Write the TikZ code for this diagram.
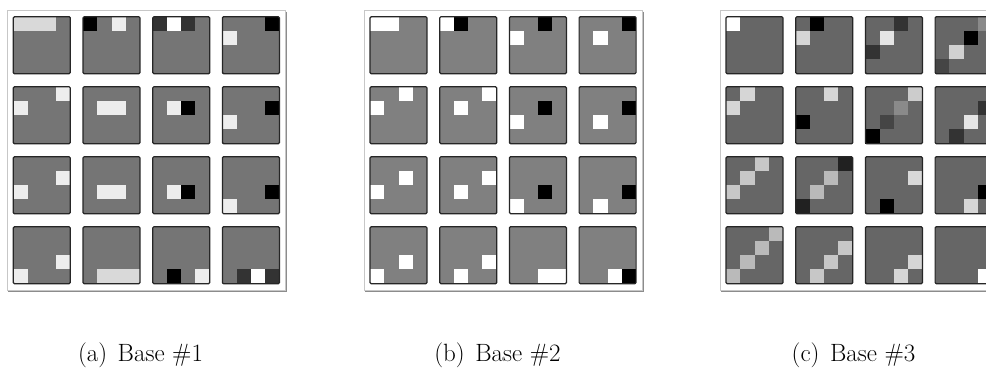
\documentclass[tikz,border=0pt]{standalone}
\usepackage{tikz}

\newcommand{\cs}{14.25}% cell size
\newcommand{\ts}{57}% tile size
% one 4x4 base tile: #1 row, #2 column, #3 background, #4 cells col/row/colour
\newcommand{\basetile}[4]{%
  \begin{scope}[shift={({6+69.7*#2},{6+70*#1})}]
    \fill[#3] (0,0) rectangle (\ts,\ts);
    \foreach \c/\r/\col in {#4}
      \fill[fill=\col] ({\c*\cs},{\r*\cs}) rectangle ++(\cs,\cs);
    \draw[tileedge] (0,0) rectangle (\ts,\ts);
  \end{scope}}

\tikzset{
  tileedge/.style={draw=black!85, line width=1.2pt, rounded corners=1.2pt},
  panelframe/.style={draw=black!22, line width=0.8pt},
  panelshadow/.style={draw=black!45, line width=0.9pt},
  subcap/.style={anchor=base, font=\fontsize{25}{30}\selectfont}
}

\begin{document}
\begin{tikzpicture}[x=1pt, y=-1pt]
  \clip (0,0) rectangle (986,369);
  \fill[white] (0,0) rectangle (986,369);

  % (a) Base #1
  \begin{scope}[shift={(7.3,10.7)}]
    \draw[panelframe] (0,0) rectangle (278.4,280);
    \draw[panelshadow] (279.4,1) -- (279.4,281) -- (1,281);
    \basetile{0}{0}{black!54}{0/0/black!15, 1/0/black!15, 2/0/black!15}
    \basetile{0}{1}{black!54}{0/0/black, 2/0/black!7}
    \basetile{0}{2}{black!54}{0/0/black!80, 1/0/white, 2/0/black!80}
    \basetile{0}{3}{black!54}{3/0/black, 0/1/black!7}
    \basetile{1}{0}{black!54}{0/1/black!7, 3/0/black!7}
    \basetile{1}{1}{black!54}{1/1/black!7, 2/1/black!7}
    \basetile{1}{2}{black!54}{1/1/black!7, 2/1/black}
    \basetile{1}{3}{black!54}{3/1/black, 0/2/black!7}
    \basetile{2}{0}{black!54}{0/2/black!7, 3/1/black!7}
    \basetile{2}{1}{black!54}{1/2/black!7, 2/2/black!7}
    \basetile{2}{2}{black!54}{1/2/black!7, 2/2/black}
    \basetile{2}{3}{black!54}{3/2/black, 0/3/black!7}
    \basetile{3}{0}{black!54}{0/3/black!7, 3/2/black!7}
    \basetile{3}{1}{black!54}{1/3/black!15, 2/3/black!15, 3/3/black!15}
    \basetile{3}{2}{black!54}{1/3/black, 3/3/black!7}
    \basetile{3}{3}{black!54}{1/3/black!80, 2/3/white, 3/3/black!80}
  \end{scope}
  \node[subcap] (capa) at (140.5,361.5) {(a)\hspace{3pt} Base \#1};

  % (b) Base #2
  \begin{scope}[shift={(364,10.7)}]
    \draw[panelframe] (0,0) rectangle (278.4,280);
    \draw[panelshadow] (279.4,1) -- (279.4,281) -- (1,281);
    \basetile{0}{0}{black!50}{0/0/white, 1/0/white}
    \basetile{0}{1}{black!50}{0/0/white, 1/0/black}
    \basetile{0}{2}{black!50}{2/0/black, 0/1/white}
    \basetile{0}{3}{black!50}{3/0/black, 1/1/white}
    \basetile{1}{0}{black!50}{0/1/white, 2/0/white}
    \basetile{1}{1}{black!50}{1/1/white, 3/0/white}
    \basetile{1}{2}{black!50}{2/1/black, 0/2/white}
    \basetile{1}{3}{black!50}{3/1/black, 1/2/white}
    \basetile{2}{0}{black!50}{0/2/white, 2/1/white}
    \basetile{2}{1}{black!50}{1/2/white, 3/1/white}
    \basetile{2}{2}{black!50}{2/2/black, 0/3/white}
    \basetile{2}{3}{black!50}{3/2/black, 1/3/white}
    \basetile{3}{0}{black!50}{0/3/white, 2/2/white}
    \basetile{3}{1}{black!50}{1/3/white, 3/2/white}
    \basetile{3}{2}{black!50}{2/3/white, 3/3/white}
    \basetile{3}{3}{black!50}{2/3/white, 3/3/black}
  \end{scope}
  \node[subcap] (capb) at (497.5,361.5) {(b)\hspace{3pt} Base \#2};

  % (c) Base #3
  \begin{scope}[shift={(720,10.7)}]
    \draw[panelframe] (0,0) rectangle (278.4,280);
    \draw[panelshadow] (279.4,1) -- (279.4,281) -- (1,281);
    \basetile{0}{0}{black!60}{0/0/white}
    \basetile{0}{1}{black!60}{1/0/black, 0/1/black!16}
    \basetile{0}{2}{black!60}{2/0/black!80, 1/1/black!10, 0/2/black!80}
    \basetile{0}{3}{black!60}{3/0/black!46, 2/1/black, 1/2/black!18, 0/3/black!73}
    \basetile{1}{0}{black!60}{1/0/black!16, 0/1/black!16}
    \basetile{1}{1}{black!60}{2/0/black!16, 0/2/black}
    \basetile{1}{2}{black!60}{3/0/black!20, 2/1/black!46, 1/2/black!73, 0/3/black}
    \basetile{1}{3}{black!60}{3/1/black!80, 2/2/black!10, 1/3/black!80}
    \basetile{2}{0}{black!60}{2/0/black!22, 1/1/black!22, 0/2/black!22}
    \basetile{2}{1}{black!60}{3/0/black!87, 2/1/black!27, 1/2/black!27, 0/3/black!87}
    \basetile{2}{2}{black!60}{3/1/black!15, 1/3/black}
    \basetile{2}{3}{black!60}{3/2/black, 2/3/black!16}
    \basetile{3}{0}{black!60}{3/0/black!27, 2/1/black!27, 1/2/black!27, 0/3/black!27}
    \basetile{3}{1}{black!60}{3/1/black!22, 2/2/black!22, 1/3/black!22}
    \basetile{3}{2}{black!60}{3/2/black!16, 2/3/black!16}
    \basetile{3}{3}{black!60}{3/3/white}
  \end{scope}
  \node[subcap] (capc) at (853.5,361.5) {(c)\hspace{3pt} Base \#3};
\end{tikzpicture}
\end{document}
